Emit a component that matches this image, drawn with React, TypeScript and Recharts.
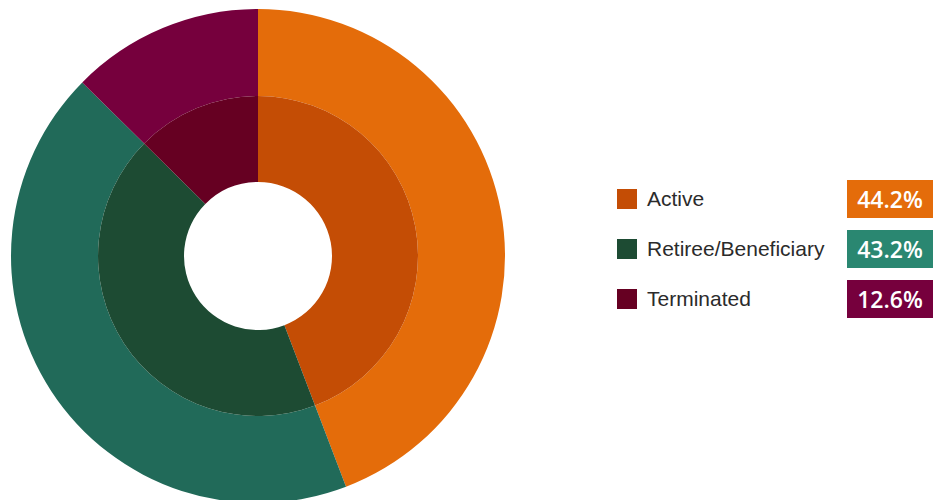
import React from "react";
import { PieChart, Pie, Cell, Legend } from "recharts";

const categories = ["Active", "Retiree/Beneficiary", "Terminated"];
const outerValues = [44.2, 43.2, 12.6];
const innerValues = [44.2, 43.2, 12.6];
const percentLabels = ["44.2%", "43.2%", "12.6%"];

const outerColors = ["#E46C0A", "#216A59", "#76003D"];
const innerColors = ["#C44D05", "#1D4B33", "#660022"];
const badgeColors = ["#E46C0A", "#2A8771", "#76003D"];

const outerData = categories.map((name, i) => ({ name, value: outerValues[i] }));
const innerData = categories.map((name, i) => ({ name, value: innerValues[i] }));

const renderLegend = () => (
  <div style={{ width: 323 }}>
    {categories.map((name, i) => (
      <div
        key={name}
        style={{
          position: "relative",
          height: 38,
          marginBottom: 12,
        }}
      >
        <div
          style={{
            position: "absolute",
            left: 7,
            top: 9,
            width: 20,
            height: 20,
            background: innerColors[i],
          }}
        />
        <div
          style={{
            position: "absolute",
            left: 37,
            top: 7,
            fontFamily: "Arial, 'Liberation Sans', sans-serif",
            fontSize: 21,
            color: "#2b2b2b",
            lineHeight: "24px",
            whiteSpace: "nowrap",
          }}
        >
          {name}
        </div>
        <div
          style={{
            position: "absolute",
            left: 237,
            top: 0,
            width: 86,
            height: 38,
            background: badgeColors[i],
            color: "#ffffff",
            fontFamily: "'Open Sans', sans-serif",
            fontWeight: 600,
            fontSize: 23,
            lineHeight: "38px",
            textAlign: "center",
          }}
        >
          {percentLabels[i]}
        </div>
      </div>
    ))}
  </div>
);

export default function App() {
  return (
    <div style={{ position: "absolute", left: 0, top: 0, width: 933, height: 500, background: "#fff" }}>
      <PieChart width={933} height={500} margin={{ top: 0, right: 0, bottom: 0, left: 0 }}>
        <Pie
          data={outerData}
          dataKey="value"
          nameKey="name"
          cx={258}
          cy={256}
          innerRadius={160}
          outerRadius={247}
          startAngle={90}
          endAngle={-270}
          stroke="none"
          isAnimationActive={false}
        >
          {outerData.map((d, i) => (
            <Cell key={d.name} fill={outerColors[i]} />
          ))}
        </Pie>
        <Pie
          data={innerData}
          dataKey="value"
          nameKey="name"
          cx={258}
          cy={256}
          innerRadius={74}
          outerRadius={160}
          startAngle={90}
          endAngle={-270}
          stroke="none"
          isAnimationActive={false}
        >
          {innerData.map((d, i) => (
            <Cell key={d.name} fill={innerColors[i]} />
          ))}
        </Pie>
        <Legend
          layout="vertical"
          content={renderLegend}
          wrapperStyle={{ position: "absolute", left: 610, top: 180, width: 323 }}
        />
      </PieChart>
    </div>
  );
}
